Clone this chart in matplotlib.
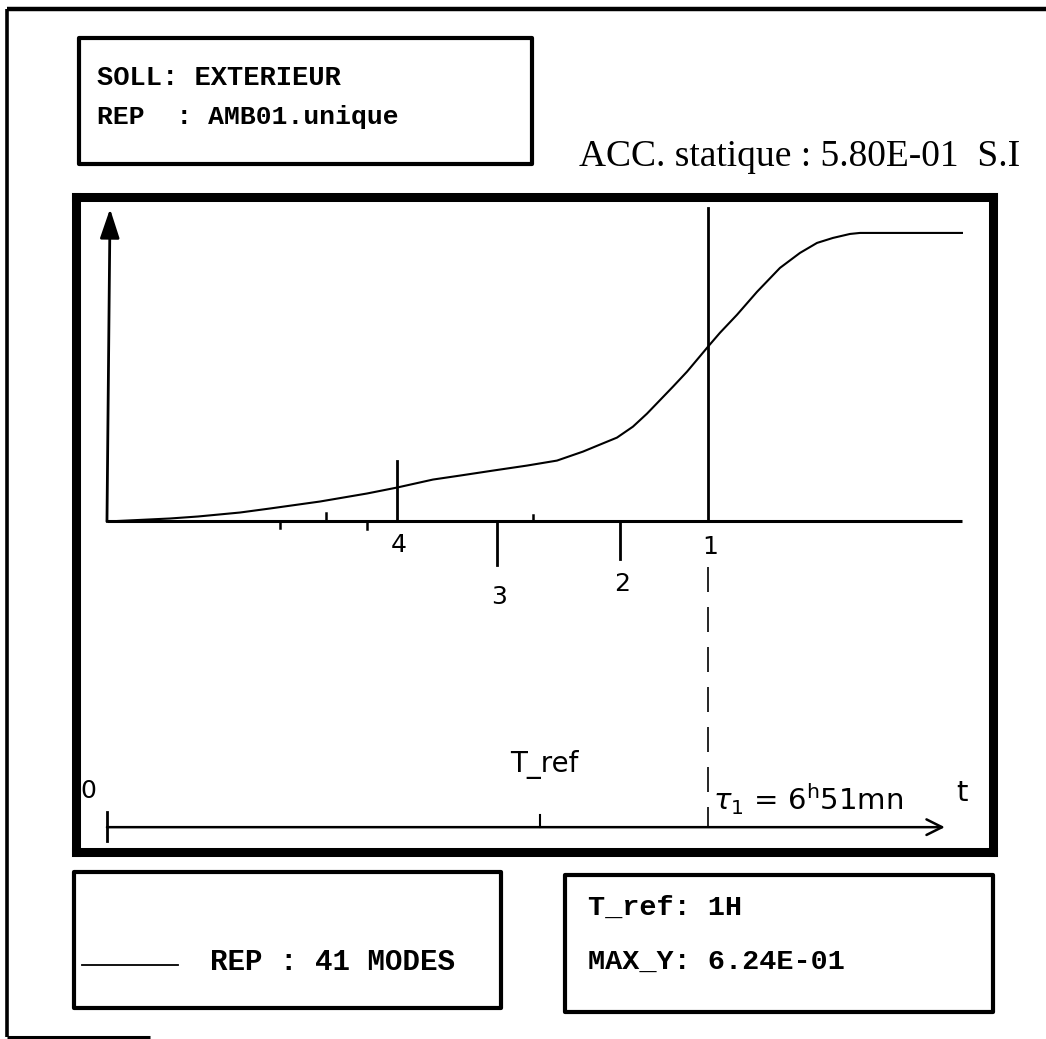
import matplotlib
matplotlib.use("Agg")
import matplotlib.pyplot as plt
from matplotlib.patches import Rectangle

# ---------------- data ----------------
# response curve: time (h, schematic scale) and response value
curve_t = [0.0, 0.718, 1.037, 1.516, 1.858, 2.428, 2.963, 3.306, 3.716, 4.024,
           4.400, 4.787, 5.129, 5.425, 5.619, 5.813, 5.995, 6.155, 6.451, 6.611,
           6.850, 6.987, 7.181, 7.409, 7.671, 7.899, 8.093, 8.275, 8.469, 8.583,
           9.745]
curve_y = [0.0, 0.0065, 0.0108, 0.0194, 0.0281, 0.0432, 0.0605, 0.0734, 0.0907,
           0.0993, 0.1101, 0.1209, 0.1317, 0.1511, 0.1663, 0.1814, 0.2051,
           0.2332, 0.2915, 0.3239, 0.3779, 0.4081, 0.4470, 0.4966, 0.5484,
           0.5808, 0.6024, 0.6132, 0.6218, 0.6240, 0.6240]

mode_labels = ["1", "2", "3", "4"]
mode_t = [6.85, 5.85, 4.445, 3.306]          # position of each mode mark
mode_tick_top = [0.678, 0.0, 0.0, 0.130]     # upper end of mark
mode_tick_bot = [0.0, -0.082, -0.093, 0.0]   # lower end of mark
mode_label_y = [-0.056, -0.136, -0.164, -0.050]

minor_t = [1.972, 2.496, 2.963, 4.856]
minor_len = [-0.013, 0.019, -0.017, 0.015]

tref_t = 4.935
tau1_t = 6.85
time_axis_y = -0.661

header_lines = ["SOLL: EXTERIEUR", "REP  : AMB01.unique"]
title_text = "ACC. statique : 5.80E-01  S.I"
legend_text = "REP : 41 MODES"
info_lines = ["T_ref: 1H", "MAX_Y: 6.24E-01"]

# ---------------- figure ----------------
W, H = 1046, 1039
fig = plt.figure(figsize=(W / 100, H / 100), dpi=100)
fig.patch.set_facecolor("white")

def fx(px):
    return px / W

def fy(py):
    return 1 - py / H

# overlay in page pixels for frames and boxes
ov = fig.add_axes([0, 0, 1, 1])
ov.set_xlim(0, W)
ov.set_ylim(H, 0)
ov.axis("off")

# outer page frame (partial, as on the scan)
ov.plot([7, W], [9, 9], color="k", lw=3.2, solid_capstyle="butt")
ov.plot([7, 7], [9, 1037], color="k", lw=2.6, solid_capstyle="butt")
ov.plot([7, 150], [1037, 1037], color="k", lw=2.2, solid_capstyle="butt")

def box(x0, y0, x1, y1, lw=3.0):
    ov.add_patch(Rectangle((x0, y0), x1 - x0, y1 - y0, fill=False,
                           ec="k", lw=lw, joinstyle="round"))

box(79, 38, 532, 164)
box(74, 872, 501, 1008)
box(565, 875, 993, 1012)

mono = dict(family="Liberation Mono", weight="bold", color="k")
ov.text(97, 78, header_lines[0], fontsize=19.5, va="center", ha="left", **mono)
ov.text(97, 117, header_lines[1], fontsize=19, va="center", ha="left", **mono)

ov.text(1020, 157, title_text, fontsize=27, va="center", ha="right",
        family="Liberation Serif", color="k")

# legend box
ov.plot([82, 178], [965, 965], color="k", lw=1.3)
ov.text(210, 962, legend_text, fontsize=21, va="center", ha="left", **mono)

# info box
ov.text(588, 908, info_lines[0], fontsize=20.5, va="center", ha="left", **mono)
ov.text(588, 962, info_lines[1], fontsize=20.5, va="center", ha="left", **mono)

# ---------------- main plot ----------------
ax = fig.add_axes([fx(76), fy(852), fx(993) - fx(76), fy(197) - fy(852)])
ax.set_xlim(-0.353, 10.099)
ax.set_ylim(-0.7147, 0.7017)
ax.set_xticks([])
ax.set_yticks([])
ax.patch.set_alpha(0)
for s in ax.spines.values():
    s.set_linewidth(6.5)
    s.set_color("k")

# axes of the response plot
ax.annotate("", xy=(0.035, 0.676), xytext=(0, 0),
            arrowprops=dict(arrowstyle="-|>,head_length=0.9,head_width=0.3",
                            lw=2.0, color="k", mutation_scale=20,
                            shrinkA=0, shrinkB=0))
ax.plot([0, 9.745], [0, 0], color="k", lw=2.2, solid_capstyle="butt")

# response curve
ax.plot(curve_t, curve_y, color="k", lw=1.5)

# minor ticks
for t, l in zip(minor_t, minor_len):
    ax.plot([t, t], [0, l], color="k", lw=1.8)

# mode marks
hand = dict(family="DejaVu Sans", color="k")
for lab, t, top, bot, ly in zip(mode_labels, mode_t, mode_tick_top,
                                mode_tick_bot, mode_label_y):
    ax.plot([t, t], [bot, top], color="k", lw=2.0)
    ax.text(t + 0.02, ly, lab, fontsize=18, ha="center", va="center", **hand)

# dashed projection of mode 1 onto time axis
ax.plot([tau1_t, tau1_t], [-0.099, time_axis_y], color="k", lw=1.2,
        dashes=(15, 9))

# time axis
ax.annotate("", xy=(9.55, time_axis_y), xytext=(0, time_axis_y),
            arrowprops=dict(arrowstyle="->", lw=1.8, color="k",
                            mutation_scale=28, shrinkA=0, shrinkB=0))
ax.plot([0, 0], [-0.628, -0.691], color="k", lw=2.0)
ax.plot([tref_t, tref_t], [-0.635, time_axis_y], color="k", lw=1.5)

ax.text(-0.217, -0.583, "0", fontsize=18, ha="center", va="center", **hand)
ax.text(tref_t + 0.05, -0.525, "T_ref", fontsize=20, ha="center",
        va="center", **hand)
ax.text(tau1_t + 0.06, -0.600, r"$\tau_1$ = 6$^{\rm h}$51mn", fontsize=21,
        ha="left", va="center", **hand)
ax.text(9.75, -0.587, "t", fontsize=21, ha="center", va="center", **hand)

fig.savefig("out.png", dpi=100, facecolor="white")
